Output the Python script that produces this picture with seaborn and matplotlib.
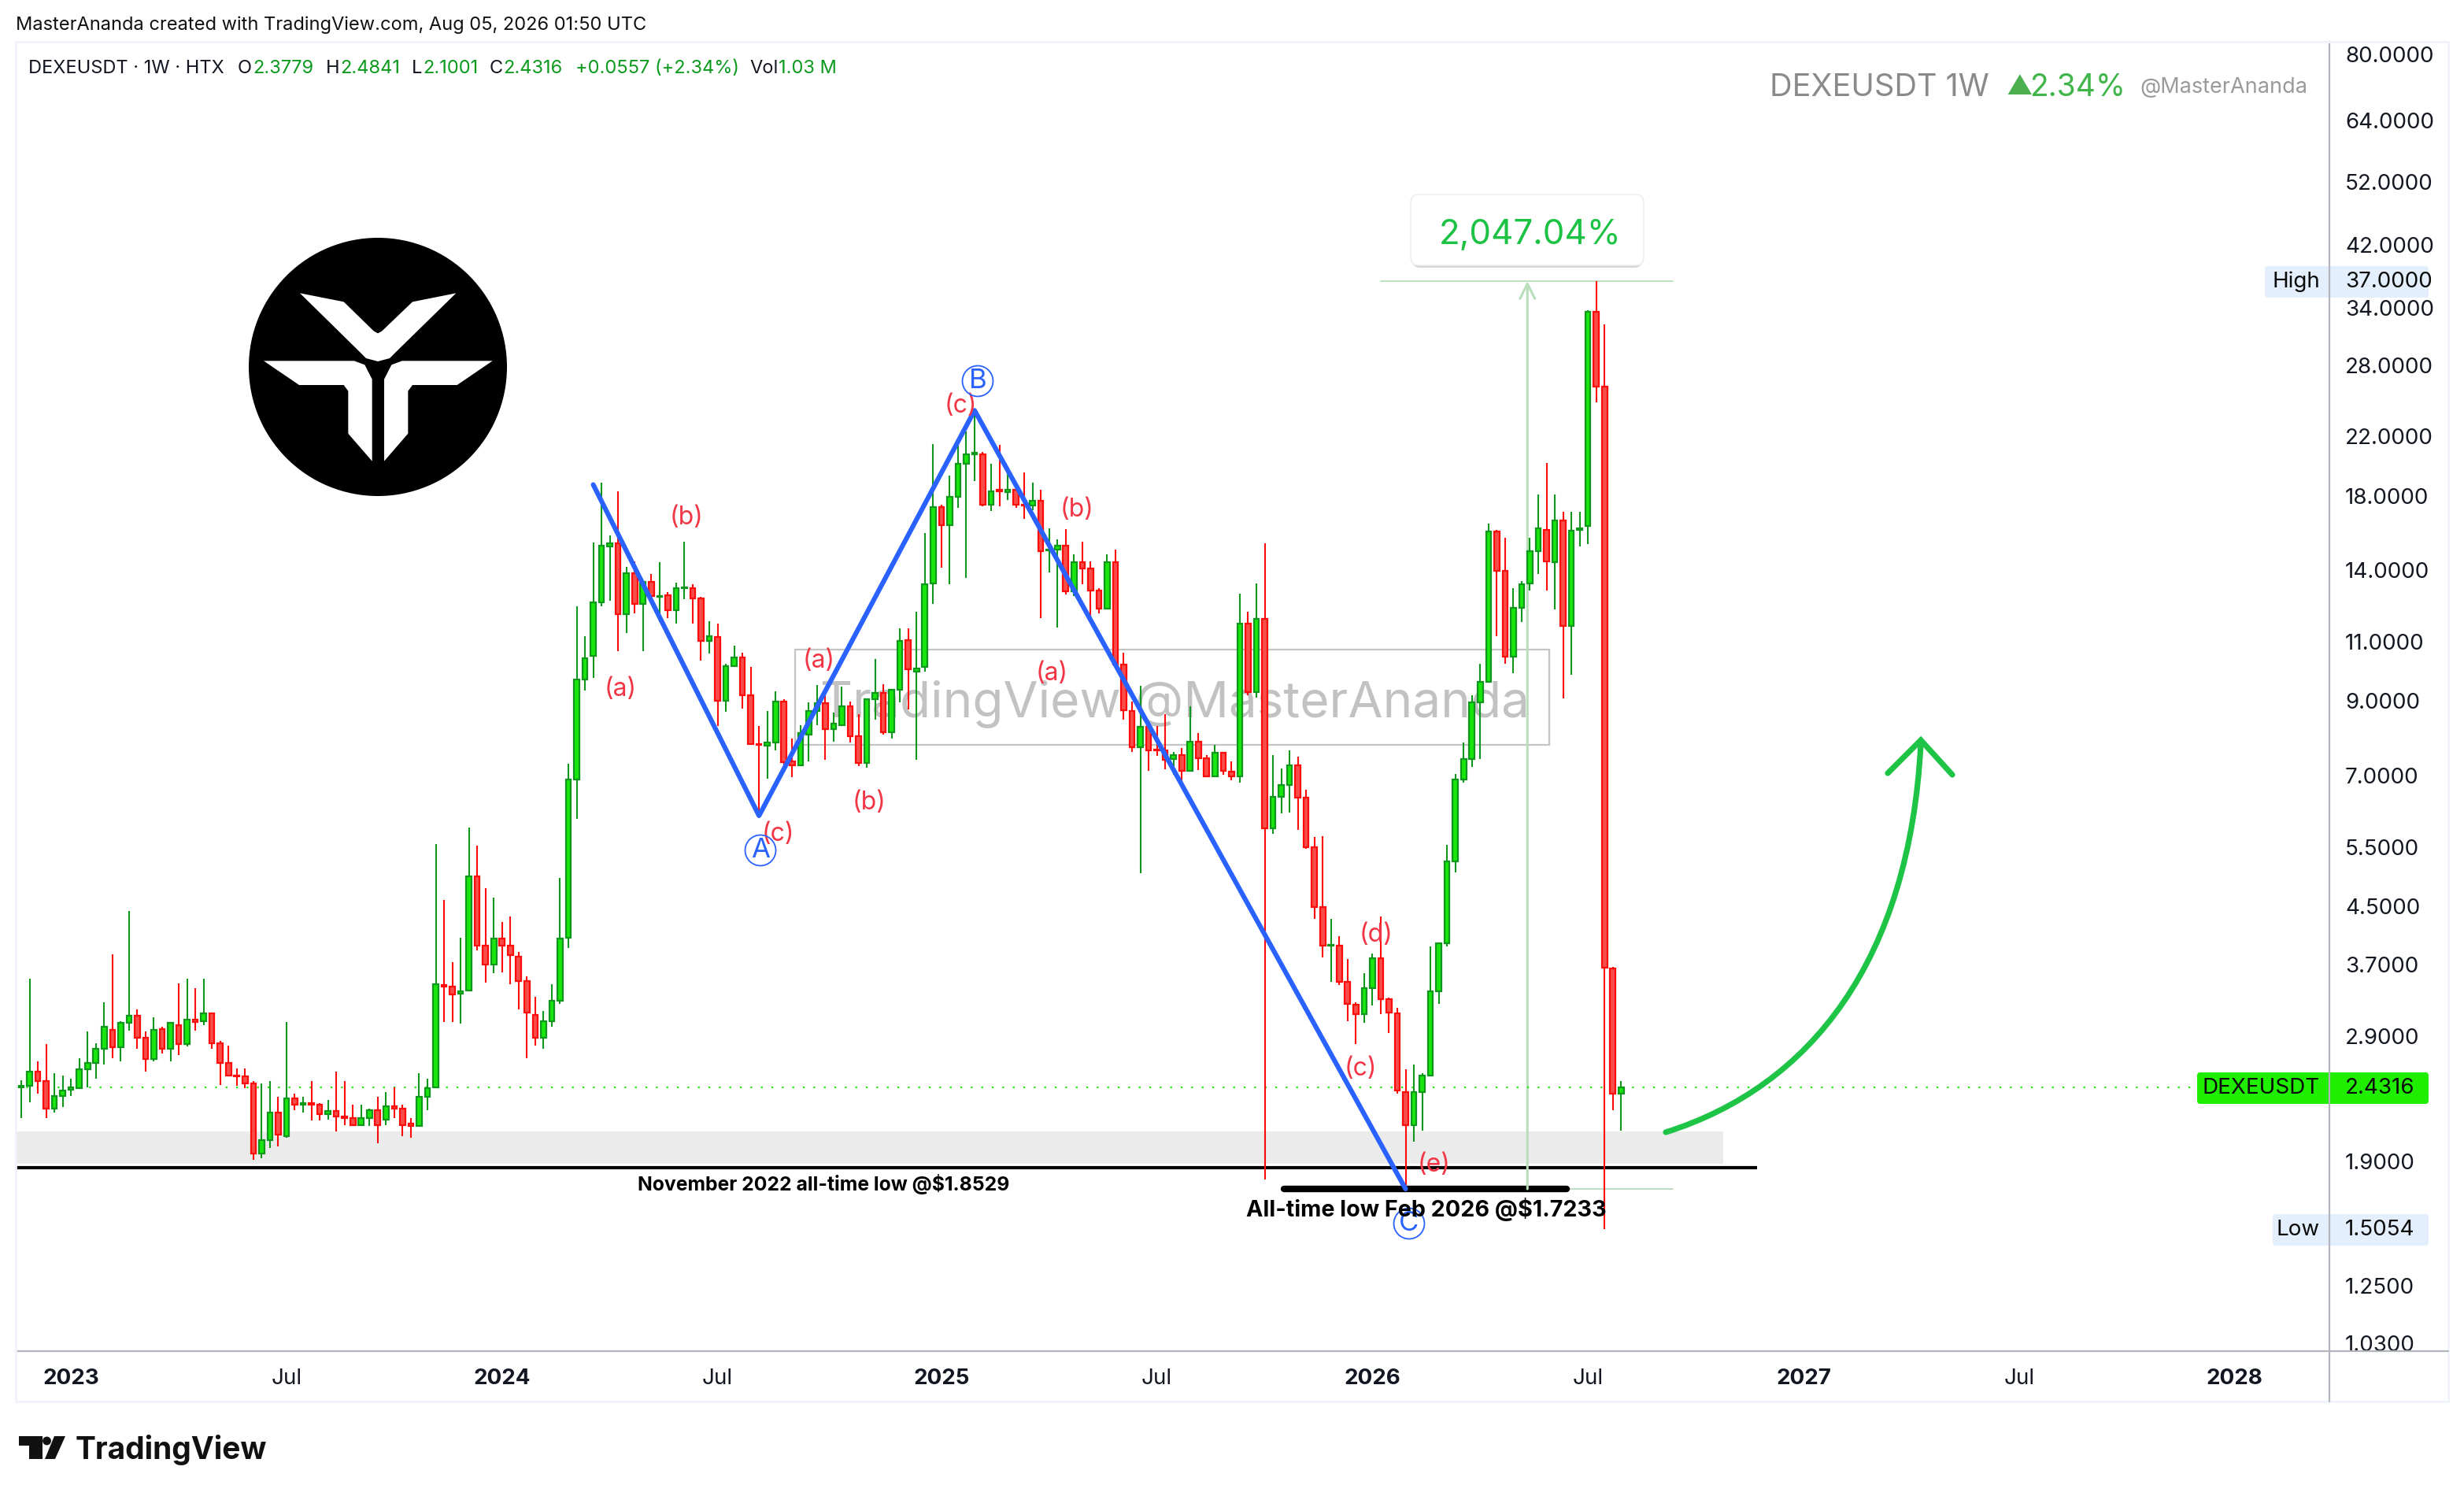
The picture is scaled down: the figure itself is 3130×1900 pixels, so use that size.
# DEXEUSDT weekly chart (TradingView look) - candles on a log price scale

import numpy as np
import pandas as pd

import matplotlib
matplotlib.use("Agg")
import matplotlib.pyplot as plt
import matplotlib.dates as mdates
from matplotlib.patches import Rectangle, FancyBboxPatch, Circle, Polygon, PathPatch
from matplotlib.path import Path
from matplotlib.lines import Line2D
from matplotlib.ticker import NullLocator
from matplotlib.transforms import Affine2D
import seaborn as sns

# weekly candles, first week is 2022-11-21
opens = [2.43,2.44,2.56,2.48,2.26,2.36,2.41,2.42,2.58,2.64,
	2.77,2.95,2.78,3.02,3.09,2.87,2.67,2.96,2.77,3.00,
	2.81,3.05,3.04,3.12,2.82,2.64,2.53,2.52,2.46,1.94,
	2.03,2.23,2.06,2.34,2.29,2.30,2.29,2.22,2.24,2.20,
	2.19,2.14,2.19,2.25,2.18,2.28,2.26,2.15,2.13,2.35,
	2.43,3.43,3.41,3.33,3.37,4.96,3.92,3.68,4.02,3.92,
	3.78,3.48,3.10,2.87,3.04,3.25,4.03,6.87,9.62,10.42,
	12.51,15.10,15.26,12.02,13.80,12.42,13.41,12.72,12.80,12.18,
	13.10,13.11,12.65,10.97,11.13,8.97,10.08,10.38,9.14,7.75,
	7.70,7.78,8.95,7.31,7.21,8.00,8.66,8.89,8.14,8.26,
	8.80,7.96,7.27,9.00,9.21,8.05,9.30,11.00,9.90,10.06,
	13.32,17.26,16.20,17.83,19.96,20.60,20.62,17.40,18.30,18.15,
	18.30,17.40,17.33,17.63,14.90,14.93,15.15,12.99,14.33,14.00,
	13.01,12.22,14.33,10.12,8.66,7.67,8.21,7.60,7.59,7.36,
	7.46,7.07,7.81,7.39,6.94,7.53,7.05,6.94,11.64,9.24,
	11.82,5.83,6.48,6.75,7.21,6.47,5.46,4.47,3.92,3.92,
	3.47,3.21,3.11,3.40,3.76,3.27,3.12,2.39,2.14,2.39,
	2.53,3.36,3.95,5.21,6.87,7.36,8.91,9.56,15.86,13.89,
	10.40,12.27,13.32,14.85,15.96,14.30,16.49,11.54,15.95,16.17,
	33.33,25.91,3.63,2.3779]
highs = [2.49,3.51,2.65,2.81,2.55,2.53,2.50,2.68,2.93,2.82,
	3.24,3.81,3.04,4.41,3.16,2.93,3.08,2.98,3.03,3.45,
	3.51,3.40,3.51,3.13,2.84,2.80,2.59,2.59,2.48,2.46,
	2.48,2.35,3.03,2.38,2.35,2.48,2.30,2.33,2.56,2.48,
	2.29,2.29,2.26,2.35,2.39,2.43,2.29,2.19,2.55,2.50,
	5.53,4.57,3.71,4.03,5.84,5.49,4.76,4.61,4.24,4.32,
	3.84,3.53,3.30,3.14,3.44,4.93,7.24,12.34,11.16,15.30,
	18.75,15.66,18.19,14.10,14.37,13.45,13.75,14.33,12.95,13.37,
	15.34,13.30,12.74,11.72,11.63,10.15,10.81,10.55,10.06,8.23,
	8.67,9.25,9.02,7.88,8.26,8.91,9.45,9.14,8.61,9.40,
	8.95,8.57,9.02,10.32,9.47,9.34,11.46,11.46,12.12,15.78,
	21.31,17.40,19.17,21.31,22.26,23.90,20.75,19.96,21.26,19.70,
	18.47,19.40,18.72,18.30,16.07,15.45,16.00,14.70,15.35,14.37,
	13.10,14.70,14.95,10.54,8.95,9.42,8.28,8.23,8.56,7.55,
	7.64,8.81,8.03,7.46,7.73,7.55,7.30,12.86,12.10,13.32,
	15.26,7.46,7.13,7.58,7.42,6.63,5.66,5.67,4.29,4.05,
	3.75,3.24,3.57,3.82,4.33,3.29,3.18,2.58,2.62,2.55,
	3.91,3.95,5.51,7.00,7.78,9.13,10.17,16.30,15.97,15.54,
	13.10,13.44,15.54,17.97,20.03,17.97,16.97,16.97,16.97,33.50,
	37.00,31.96,3.65,2.4841]
lows = [2.19,2.31,2.38,2.19,2.23,2.27,2.36,2.42,2.43,2.50,
	2.62,2.68,2.65,2.94,2.77,2.56,2.65,2.72,2.65,2.71,
	2.79,2.94,3.00,2.77,2.45,2.53,2.44,2.42,1.90,1.91,
	1.98,1.99,2.05,2.25,2.23,2.17,2.17,2.18,2.09,2.14,
	2.14,2.13,2.13,2.01,2.14,2.19,2.06,2.05,2.13,2.25,
	2.42,3.03,3.03,3.01,3.37,3.86,3.46,3.57,3.58,3.44,
	3.16,2.68,2.80,2.77,2.98,3.22,3.89,6.01,9.29,9.67,
	12.34,12.55,10.61,11.28,12.05,10.59,12.52,11.69,11.84,11.63,
	12.63,11.63,10.27,10.51,8.23,8.64,10.08,8.73,7.75,6.08,
	6.88,7.59,7.21,6.92,7.21,7.30,8.26,7.34,7.81,8.26,
	7.78,7.19,7.15,8.41,7.99,7.88,8.92,8.70,7.35,9.89,
	12.44,14.05,13.29,17.21,13.56,18.82,17.28,17.03,17.28,17.67,
	17.18,16.57,17.04,11.84,13.83,11.49,12.85,12.78,13.30,11.72,
	12.04,12.22,10.12,8.41,7.55,5.01,7.07,7.45,7.12,6.99,
	6.79,7.05,7.10,6.92,6.94,6.99,6.86,6.79,9.14,9.05,
	1.78,5.72,6.12,6.15,5.79,5.44,4.29,3.77,3.47,3.43,
	3.04,2.81,3.02,3.20,3.11,2.92,2.38,1.7233,2.02,2.10,
	2.53,3.22,3.91,5.02,6.79,7.17,7.36,9.56,11.16,10.15,
	9.83,11.70,13.00,13.74,13.00,12.19,9.03,9.78,15.10,15.20,
	24.53,1.5054,2.25,2.1001]
closes = [2.44,2.56,2.48,2.26,2.36,2.40,2.43,2.58,2.64,2.77,
	2.98,2.78,3.02,3.09,2.87,2.67,2.95,2.77,3.02,2.81,
	3.05,3.03,3.12,2.82,2.64,2.53,2.52,2.46,1.94,2.03,
	2.23,2.07,2.34,2.29,2.30,2.29,2.22,2.24,2.20,2.19,
	2.14,2.19,2.25,2.14,2.28,2.26,2.14,2.13,2.35,2.42,
	3.44,3.41,3.32,3.36,4.95,3.92,3.68,4.02,3.92,3.80,
	3.48,3.13,2.87,3.04,3.25,4.02,6.87,9.62,10.34,12.51,
	15.12,15.25,12.02,13.80,12.42,13.41,12.76,12.77,12.18,13.11,
	13.16,12.68,10.97,11.16,8.97,10.08,10.38,9.14,7.75,7.72,
	7.78,8.95,7.29,7.21,8.03,8.65,8.89,8.14,8.30,8.80,
	7.96,7.27,9.00,9.21,8.05,9.30,10.97,9.96,10.00,13.29,
	17.26,16.20,17.83,19.96,20.62,20.70,17.40,18.21,18.20,18.30,
	17.40,17.35,17.60,14.87,14.95,15.15,12.99,14.33,14.00,13.01,
	12.22,14.33,10.12,8.69,7.67,8.21,7.58,7.58,7.34,7.47,
	7.07,7.81,7.38,6.94,7.52,7.07,6.94,11.64,9.24,11.82,
	5.83,6.48,6.75,7.21,6.47,5.46,4.47,3.92,3.93,3.47,
	3.22,3.11,3.40,3.76,3.27,3.13,2.40,2.14,2.39,2.53,
	3.36,3.95,5.21,6.87,7.36,8.91,9.56,15.86,13.89,10.40,
	12.27,13.30,14.87,16.03,14.35,16.49,11.54,15.92,16.06,33.33,
	25.91,3.64,2.38,2.4316]

# ABC wave: candle number and price
wave_weeks = [69, 89, 115, 167]
wave_prices = [18.6, 6.08, 23.9, 1.7233]

price_ticks = [80, 64, 52, 42, 34, 28, 22, 18, 14, 11, 9, 7, 5.5, 4.5, 3.7, 2.9, 1.9, 1.55, 1.25, 1.03]
time_ticks = ["2023-01-02", "2023-07-03", "2024-01-01", "2024-07-01", "2025-01-06",
	"2025-07-07", "2026-01-05", "2026-07-06", "2027-01-04", "2027-07-05", "2028-01-03"]
time_labels = ["2023", "Jul", "2024", "Jul", "2025", "Jul", "2026", "Jul", "2027", "Jul", "2028"]

last_close = 2.4316
range_high = 37.0
range_low = 1.5054
ath_low = 1.7233
nov_low = 1.8529
zone_low = 1.875
zone_high = 2.09

# label text and image position
wave_labels = [("(a)", 788, 875), ("(b)", 872, 657), ("(c)", 988, 1059), ("(a)", 1040, 839),
	("(b)", 1104, 1019), ("(c)", 1220, 515), ("(b)", 1368, 647), ("(a)", 1336, 855),
	("(d)", 1748, 1187), ("(c)", 1728, 1357), ("(e)", 1822, 1479)]

W, H = 3130, 1900
AX_LEFT, AX_RIGHT, AX_TOP, AX_BOTTOM = 20, 2959, 53, 1716
FRAME_RIGHT, FRAME_BOTTOM = 3110, 1780
PX_PER_WEEK = 10.53
FIRST_CANDLE_PX = 27

UP_FILL = "#18e60c"
UP_EDGE = "#0f961c"
DOWN_FILL = "#f94d4a"
DOWN_EDGE = "#ff0a0a"
BLUE = "#2962ff"
RED_TEXT = "#f23645"
DARK = "#131722"
AXIS_LINE = "#b2b5be"
FRAME_LINE = "#f0f3fa"
MEASURE = "#b7dfb9"

sns.set_theme(style="white")
plt.rcParams["font.family"] = ["Inter", "DejaVu Sans"]

fig = plt.figure(figsize=(W / 100, H / 100), dpi=100, facecolor="white")
ax = fig.add_axes([AX_LEFT / W, 1 - AX_BOTTOM / H, (AX_RIGHT - AX_LEFT) / W, (AX_BOTTOM - AX_TOP) / H])
# image pixels, y down, for everything that is not on the price scale
tr = Affine2D().scale(1 / W, -1 / H).translate(0, 1) + fig.transFigure

dates = pd.date_range("2022-11-21", periods=len(opens), freq="7D")
xs = mdates.date2num(dates)


def week(i):
	return xs[0] + 7 * i


candles = pd.DataFrame({"x": xs, "o": opens, "h": highs, "l": lows, "c": closes})
candles["up"] = candles["c"] >= candles["o"]
candles["bottom"] = candles[["o", "c"]].min(axis=1)
candles["height"] = (candles["o"] - candles["c"]).abs()

ax.set_yscale("log")
x_left = xs[0] - (FIRST_CANDLE_PX - AX_LEFT) / PX_PER_WEEK * 7
x_right = xs[0] + (AX_RIGHT - FIRST_CANDLE_PX) / PX_PER_WEEK * 7

# support zone and the two all-time low lines
ax.fill_between([x_left, week(205.3)], zone_low, zone_high, color="#ebebeb", lw=0, zorder=1)
ax.plot([x_left, week(209.4)], [nov_low, nov_low], color="black", lw=3, solid_capstyle="butt", zorder=1.5)
ax.plot([week(152.3), week(186.4)], [ath_low, ath_low], color="black", lw=6, solid_capstyle="round", zorder=1.5)

# watermark sits behind the candles
ax.add_patch(Rectangle((1010, 825), 958, 121, transform=tr, fill=False, ec="#c4c4c4", lw=1.6, zorder=1, clip_on=False))
ax.text(1492, 894, "TradingView @MasterAnanda", transform=tr, color="#c2c2c2", fontsize=46,
	ha="center", va="center", zorder=1)

# measure tool
ax.plot([week(164), week(199.2)], [range_high, range_high], color=MEASURE, lw=1.3, zorder=1.6)
ax.plot([week(164), week(199.2)], [ath_low, ath_low], color=MEASURE, lw=1.3, zorder=1.2)
ax.annotate("", xy=(week(181.7), range_high), xytext=(week(181.7), ath_low),
	arrowprops=dict(arrowstyle="->", color=MEASURE, lw=2.2, shrinkA=0, shrinkB=0, mutation_scale=34), zorder=1.6)

ax.plot([x_left, x_right], [last_close, last_close], color="#1fe80a", lw=1.6, ls=(0, (1, 5)), zorder=1.8)

# candles
for is_up, fill, edge in [(True, UP_FILL, UP_EDGE), (False, DOWN_FILL, DOWN_EDGE)]:
	part = candles[candles["up"] == is_up]
	ax.vlines(part["x"], part["l"], part["h"], color=edge, lw=1.5, zorder=3)
	ax.bar(part["x"], part["height"], bottom=part["bottom"], width=4.4, color=fill,
		edgecolor=edge, linewidth=1.6, zorder=3.2)

# ABC wave
wave = pd.DataFrame({"x": [week(i) for i in wave_weeks], "price": wave_prices})
sns.lineplot(data=wave, x="x", y="price", ax=ax, sort=False, estimator=None, color=BLUE,
	linewidth=4.4, legend=False, zorder=4)

ax.set_xlim(x_left, x_right)
ax.set_ylim(80 * np.exp(-(AX_BOTTOM - 67) / 376), 80 * np.exp((67 - AX_TOP) / 376))
ax.set_xlabel("")
ax.set_ylabel("")

# axes
ax.yaxis.tick_right()
ax.yaxis.set_minor_locator(NullLocator())
ax.set_yticks(price_ticks)
ax.set_yticklabels([f"{p:.4f}" for p in price_ticks])
ax.set_xticks(mdates.date2num(pd.to_datetime(time_ticks)))
ax.set_xticklabels(time_labels)
ax.tick_params(axis="y", length=0, pad=14.4, labelsize=20, labelcolor=DARK)
ax.tick_params(axis="x", length=0, pad=16, labelsize=20, labelcolor=DARK)
# nudge the price labels down a little
for tick in ax.yaxis.get_major_ticks():
	tick.label2.set_transform(tick.label2.get_transform() + Affine2D().translate(0, -2))
for lab, txt in zip(ax.get_xticklabels(), time_labels):
	if txt != "Jul":
		lab.set_fontweight("bold")
for side in ["top", "left"]:
	ax.spines[side].set_visible(False)
for side in ["right", "bottom"]:
	ax.spines[side].set_color(AXIS_LINE)
	ax.spines[side].set_linewidth(1.6)
ax.patch.set_alpha(0)


def fig_line(xa, ya, xb, yb, color, lw):
	fig.add_artist(Line2D([xa, xb], [ya, yb], transform=tr, color=color, lw=lw))


def fig_label(x, y, s, **kw):
	fig.text(x, y, s, transform=tr, **kw)


# frame and axis extensions
fig_line(AX_LEFT, AX_TOP, FRAME_RIGHT, AX_TOP, FRAME_LINE, 2)
fig_line(AX_LEFT, FRAME_BOTTOM, FRAME_RIGHT, FRAME_BOTTOM, FRAME_LINE, 2)
fig_line(AX_LEFT, AX_TOP, AX_LEFT, FRAME_BOTTOM, FRAME_LINE, 2)
fig_line(FRAME_RIGHT, AX_TOP, FRAME_RIGHT, FRAME_BOTTOM, FRAME_LINE, 2)
fig_line(AX_RIGHT, AX_BOTTOM, FRAME_RIGHT, AX_BOTTOM, AXIS_LINE, 1.6)
fig_line(AX_RIGHT, AX_BOTTOM, AX_RIGHT, FRAME_BOTTOM, AXIS_LINE, 1.6)

# header
fig_label(20, 32, "MasterAnanda created with TradingView.com, Aug 05, 2026 01:50 UTC",
	color="#111111", fontsize=17, va="center")
GREEN_TXT = "#0b9a1e"
header_row = [(36, "DEXEUSDT · 1W · HTX", DARK), (302, "O", DARK), (321, "2.3779", GREEN_TXT),
	(414, "H", DARK), (432, "2.4841", GREEN_TXT), (523, "L", DARK), (537, "2.1001", GREEN_TXT),
	(622, "C", DARK), (639, "2.4316", GREEN_TXT), (731, "+0.0557 (+2.34%)", GREEN_TXT),
	(952, "Vol", DARK), (989, "1.03 M", GREEN_TXT)]
for x, s, col in header_row:
	fig_label(x, 87, s, color=col, fontsize=17, va="center")

# top right stamp
fig_label(2248, 111, "DEXEUSDT 1W", color="#8a8a8a", fontsize=28.5, va="center")
fig_label(2548, 111, "▲", color="#4caf50", fontsize=24, va="center")
fig_label(2578, 111, "2.34%", color="#3fb54a", fontsize=28, va="center")
fig_label(2718, 111, "@MasterAnanda", color="#9a9a9a", fontsize=19.5, va="center")

# logo
fig.add_artist(Circle((480, 466), 164, transform=tr, color="black", lw=0))
v_shape = [(243,247),(410,280),(525,392),(540,400),(555,392),(672,280),(838,247),(610,470),(585,495),(540,507),(495,495),(470,470)]
t_left = [(105,505),(450,505),(490,520),(518,575),(518,887),(427,782),(427,620),(410,597),(240,597)]
t_right = [(977,505),(632,505),(592,520),(564,575),(564,887),(655,782),(655,620),(672,597),(842,597)]
for shape in [v_shape, t_left, t_right]:
	fig.add_artist(Polygon([(300 + a / 3, 290 + b / 3) for a, b in shape], transform=tr, color="white", lw=0))

# percentage box
fig.add_artist(FancyBboxPatch((1794, 252), 292, 88, boxstyle="round,pad=0,rounding_size=10", transform=tr,
	fc="#bdbdbd", ec="none", alpha=0.6))
fig.add_artist(FancyBboxPatch((1792, 247), 296, 90, boxstyle="round,pad=0,rounding_size=10", transform=tr,
	fc="white", ec="#ececec", lw=1))
fig_label(1944, 298, "2,047.04%", color="#1bc244", fontsize=31.6, ha="center", va="center")

# wave and note labels
for s, x, y in wave_labels:
	fig_label(x, y, s, color=RED_TEXT, fontsize=23, ha="center", va="center")
for s, x, y in [("A", 966, 1080), ("B", 1242, 484), ("C", 1790, 1554)]:
	fig_label(x, y, s, color=BLUE, fontsize=25, ha="center", va="center",
		bbox=dict(boxstyle="circle,pad=0.1", fc="none", ec=BLUE, lw=1.3))
fig_label(1046, 1504, "November 2022 all-time low @$1.8529", color="black", fontsize=17.8, fontweight="bold",
	ha="center", va="center")
fig_label(1812, 1536, "All-time low Feb 2026 @$1.7233", color="black", fontsize=20.7, fontweight="bold",
	ha="center", va="center")

# curved arrow
curve = Path([(2116, 1438), (2300, 1380), (2426, 1220), (2440, 944)],
	[Path.MOVETO, Path.CURVE4, Path.CURVE4, Path.CURVE4])
fig.add_artist(PathPatch(curve, transform=tr, fill=False, ec="#1ec445", lw=5.2, capstyle="round"))
fig.add_artist(Line2D([2398, 2440, 2480], [982, 940, 984], transform=tr, color="#1ec445", lw=5.2,
	solid_capstyle="round", solid_joinstyle="miter"))

# price axis tags
for x0, y0, wid, col, name, val in [(2877, 358, 208, "#e3effd", "High", "37.0000"),
		(2887, 1562, 198, "#e3effd", "Low", "1.5054"),
		(2791, 1382, 294, "#20ee00", "DEXEUSDT", "2.4316")]:
	fig.add_artist(FancyBboxPatch((x0, y0 - 20), wid, 40, boxstyle="round,pad=0,rounding_size=4",
		transform=tr, fc=col, ec="none"))
	fig_line(AX_RIGHT, y0 - 20, AX_RIGHT, y0 + 20, AXIS_LINE, 1.6)
	fig_label(2947, y0, name, color="#0a0a0a", fontsize=20, ha="right", va="center")
	fig_label(2979, y0, val, color="#0a0a0a", fontsize=20, ha="left", va="center")

# TradingView mark at the bottom
tv_bar = [(24,24),(54,24),(54,53),(37,53),(37,36),(24,36)]
tv_slash = [(69,24),(83,24),(70,53),(57,53)]
for shape in [tv_bar, tv_slash]:
	fig.add_artist(Polygon([(a, 1800 + b) for a, b in shape], transform=tr, color="#111111", lw=0))
fig.add_artist(Circle((59.5, 1830), 5.4, transform=tr, color="#111111", lw=0))
fig_label(96, 1853, "TradingView", color="#111111", fontsize=28, fontweight="bold", va="baseline")

fig.savefig("out.png", dpi=100)
